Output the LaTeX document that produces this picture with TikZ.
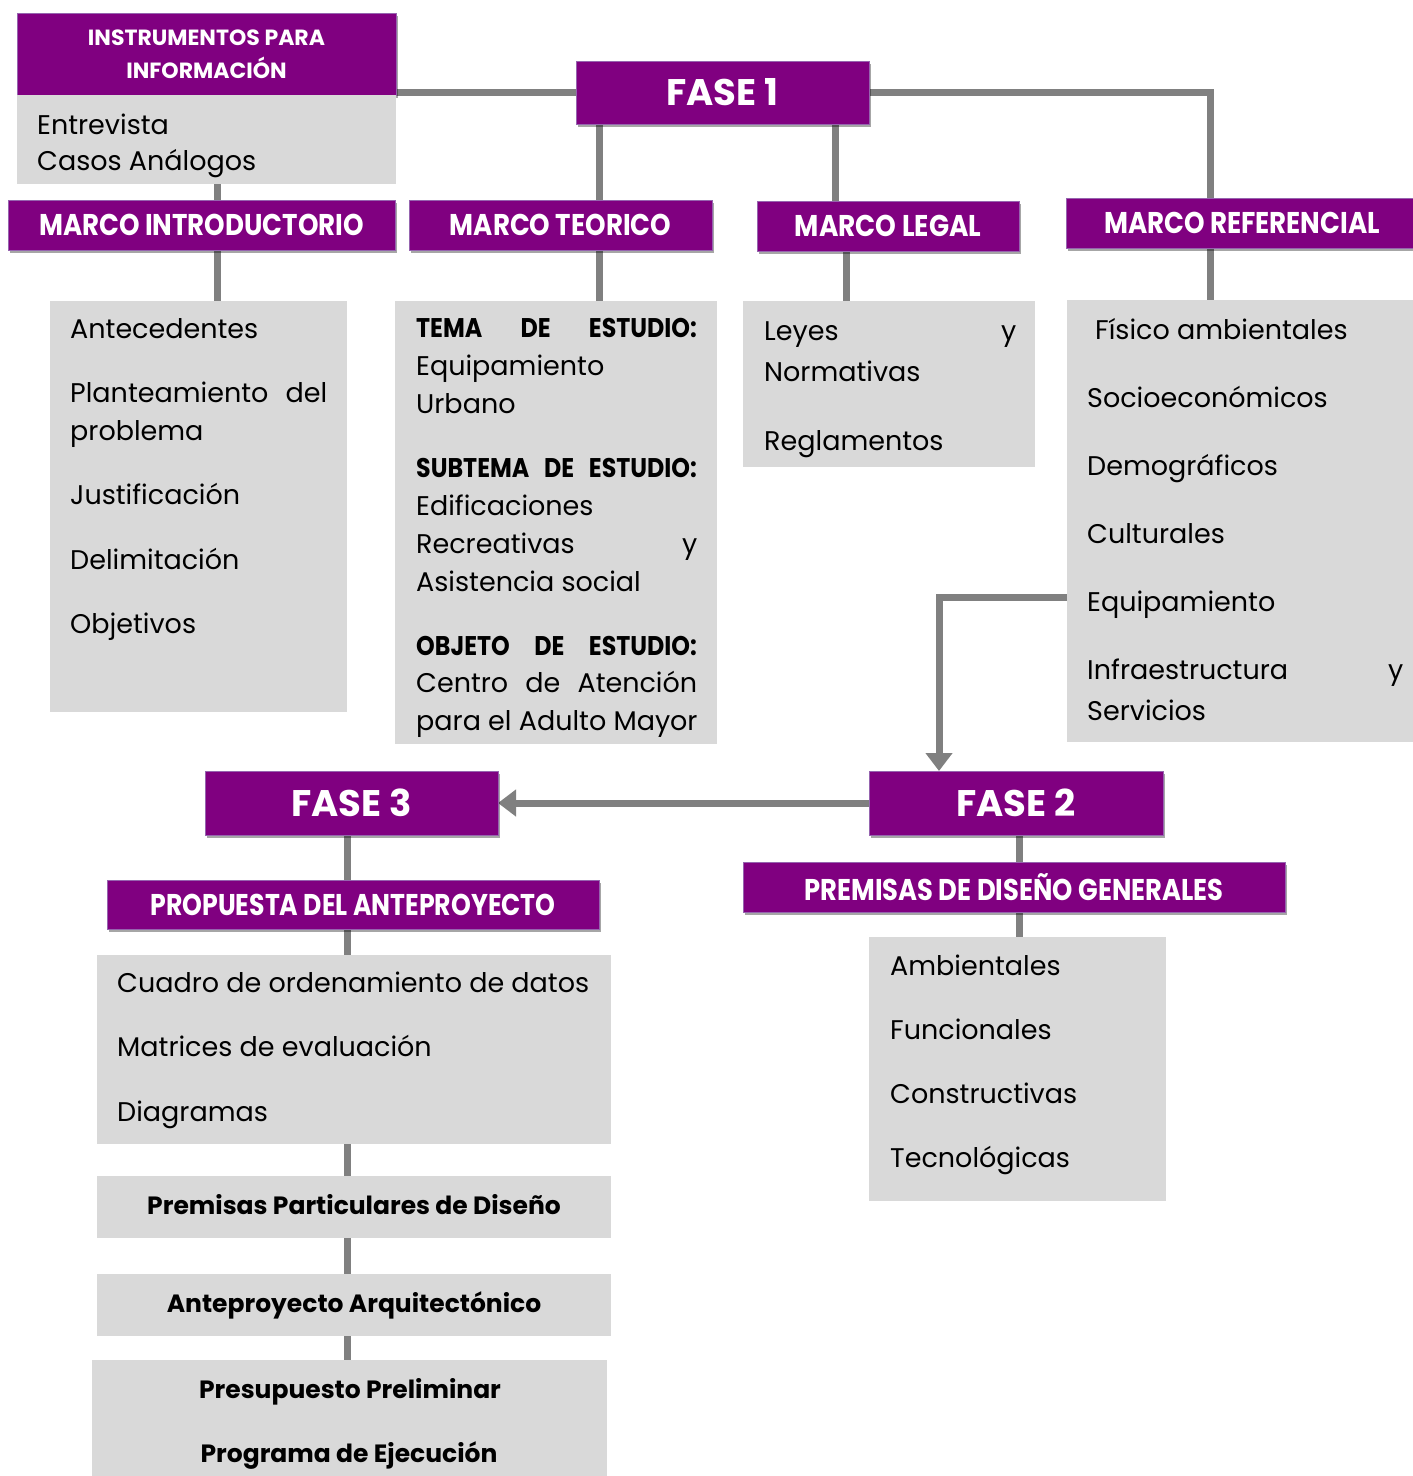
\documentclass[tikz,border=0pt]{standalone}
\usepackage{fontspec}
\usepackage{graphicx}
\setmainfont{Poppins}
\usetikzlibrary{arrows.meta,shadows,backgrounds}
\definecolor{purp}{RGB}{128,0,128}
\definecolor{purpb}{RGB}{150,100,175}
\definecolor{boxg}{RGB}{217,217,217}
\definecolor{lineg}{RGB}{128,128,128}
\newcommand{\bodyf}{\fontsize{27}{38}\selectfont}
\newcommand{\hdrf}{\fontsize{30}{32}\selectfont\bfseries}
\newcommand{\instf}{\fontsize{22}{33}\selectfont\bfseries}
\newcommand{\fasef}{\fontsize{37}{40}\selectfont\bfseries}
\newcommand{\hx}[2]{\scalebox{#1}[1]{#2}}
\newcommand{\spreadb}[1]{\scalebox{0.88}[1]{\hbox to 319pt{\bfseries #1}}}
\begin{document}
\begin{tikzpicture}[x=1pt,y=-1pt,
  hbox/.style={fill=purp, draw=purpb, line width=1pt, text=white, inner sep=0pt, outer sep=0pt, anchor=north west,
    drop shadow={shadow xshift=2pt,shadow yshift=-3pt,opacity=0.35,fill=black}},
  gbox/.style={fill=boxg, inner sep=0pt, outer sep=0pt, anchor=north west},
  conn/.style={draw=lineg, line width=7pt},
  arr/.style={conn, -{Triangle[length=18pt,width=26pt]}},
  txt/.style={anchor=base west, inner sep=0pt, font=\bodyf},
  btxt/.style={anchor=base, inner sep=0pt, font=\fontsize{25}{30}\selectfont\bfseries}]
\useasboundingbox (0,0) rectangle (1413,1476);
% header boxes
\node[hbox, minimum width=379pt, minimum height=82pt, align=center, font=\instf] (instrh) at (17,13) {INSTRUMENTOS PARA\\INFORMACIÓN};
\node[gbox, minimum width=379pt, minimum height=89pt] (instrg) at (17,95) {};
\node[hbox, minimum width=293pt, minimum height=63pt, font=\fasef] (fase1) at (576,61) {FASE 1};
\node[hbox, minimum width=387pt, minimum height=50pt, font=\hdrf] (introh) at (8,200) {\hx{0.87}{MARCO INTRODUCTORIO}};
\node[hbox, minimum width=303pt, minimum height=50pt, font=\hdrf] (teoh) at (409,200) {\hx{0.87}{MARCO TEORICO}};
\node[hbox, minimum width=262pt, minimum height=50pt, font=\hdrf] (legh) at (757,201) {\hx{0.88}{MARCO LEGAL}};
\node[hbox, minimum width=352pt, minimum height=50pt, font=\hdrf] (refh) at (1066,198) {\hx{0.87}{MARCO REFERENCIAL}};
% grey boxes
\node[gbox, minimum width=297pt, minimum height=411pt] (introg) at (50,301) {};
\node[gbox, minimum width=322pt, minimum height=443pt] (teog) at (395,301) {};
\node[gbox, minimum width=292pt, minimum height=166pt] (legg) at (743,301) {};
\node[gbox, minimum width=350pt, minimum height=442pt] (refg) at (1067,300) {};
% fases
\node[hbox, minimum width=294pt, minimum height=64pt, font=\fasef] (fase2) at (869,771) {FASE 2};
\node[hbox, minimum width=293pt, minimum height=64pt, font=\fasef] (fase3) at (205,771) {FASE 3};
\node[hbox, minimum width=492pt, minimum height=49pt, font=\hdrf] (proph) at (107,880) {\hx{0.84}{PROPUESTA DEL ANTEPROYECTO}};
\node[gbox, minimum width=514pt, minimum height=189pt] (propg) at (97,955) {};
\node[gbox, minimum width=514pt, minimum height=62pt] (ppd) at (97,1176) {};
\node[gbox, minimum width=514pt, minimum height=62pt] (ant) at (97,1274) {};
\node[gbox, minimum width=515pt, minimum height=116pt] (pres) at (92,1360) {};
\node[hbox, minimum width=542pt, minimum height=50pt, font=\hdrf] (premh) at (743,862) {\hx{0.86}{PREMISAS DE DISEÑO GENERALES}};
\node[gbox, minimum width=297pt, minimum height=264pt] (premg) at (869,937) {};
% texts
\node[txt] (ta1) at (37,134) {Entrevista};
\node[txt] (ta2) at (37,170) {Casos Análogos};
\node[txt] (tb1) at (70,338) {Antecedentes};
\node[txt] (tb2) at (70,402) {\hbox to 257pt{Planteamiento\hfill del}};
\node[txt] (tb3) at (70,440) {problema};
\node[txt] (tb4) at (70,504) {Justificación};
\node[txt] (tb5) at (70,569) {Delimitación};
\node[txt] (tb6) at (70,633) {Objetivos};
\node[txt] (tc1) at (416,337) {\spreadb{TEMA\hfill DE\hfill ESTUDIO:}};
\node[txt] (tc2) at (416,375) {Equipamiento};
\node[txt] (tc3) at (416,413) {Urbano};
\node[txt] (tc4) at (416,477) {\spreadb{SUBTEMA\hfill DE\hfill ESTUDIO:}};
\node[txt] (tc5) at (416,515) {Edificaciones};
\node[txt] (tc6) at (416,553) {\hbox to 281pt{Recreativas\hfill y}};
\node[txt] (tc7) at (416,591) {Asistencia social};
\node[txt] (tc8) at (416,655) {\spreadb{OBJETO\hfill DE\hfill ESTUDIO:}};
\node[txt] (tc9) at (416,692) {\hbox to 281pt{Centro\hfill de\hfill Atención}};
\node[txt] (tc10) at (416,730) {para el Adulto Mayor};
\node[txt] (td1) at (764,340) {\hbox to 252pt{Leyes\hfill y}};
\node[txt] (td2) at (764,381) {Normativas};
\node[txt] (td3) at (764,450) {Reglamentos};
\node[txt] (te1) at (1095,339) {Físico ambientales};
\node[txt] (te2) at (1087,407) {Socioeconómicos};
\node[txt] (te3) at (1087,475) {Demográficos};
\node[txt] (te4) at (1087,543) {Culturales};
\node[txt] (te5) at (1087,611) {Equipamiento};
\node[txt] (te6) at (1087,679) {\hbox to 316pt{Infraestructura\hfill y}};
\node[txt] (te7) at (1087,720) {Servicios};
\node[txt] (tf1) at (117,992) {Cuadro de ordenamiento de datos};
\node[txt] (tf2) at (117,1056) {Matrices de evaluación};
\node[txt] (tf3) at (117,1121) {Diagramas};
\node[txt] (tg1) at (890,975) {Ambientales};
\node[txt] (tg2) at (890,1039) {Funcionales};
\node[txt] (tg3) at (890,1103) {Constructivas};
\node[txt] (tg4) at (890,1167) {Tecnológicas};
\node[btxt] (th1) at (354,1214) {Premisas Particulares de Diseño};
\node[btxt] (th2) at (354,1312) {Anteproyecto Arquitectónico};
\node[btxt] (th3) at (350,1398) {Presupuesto Preliminar};
\node[btxt] (th4) at (349,1462) {Programa de Ejecución};
% connector x positions
\coordinate (xa) at (217,0);
\coordinate (xb) at (599,0);
\coordinate (xc) at (835,0);
\coordinate (xd) at (846,0);
\coordinate (xe) at (1210,0);
\coordinate (xf) at (347,0);
\coordinate (xg) at (1019,0);
\coordinate (xh) at (939,0);
\coordinate (ya) at (0,597);
\begin{scope}[on background layer]
\draw[conn] (fase1.west) -- (fase1.west -| instrg.east);
\draw[conn] (fase1.east) -| (refh.north -| xe);
\draw[conn] (fase1.south -| xb) -- (teoh.north -| xb);
\draw[conn] (fase1.south -| xc) -- (legh.north -| xc);
\draw[conn] (instrg.south -| xa) -- (introh.north -| xa);
\draw[conn] (introh.south -| xa) -- (introg.north -| xa);
\draw[conn] (teoh.south -| xb) -- (teog.north -| xb);
\draw[conn] (legh.south -| xd) -- (legg.north -| xd);
\draw[conn] (refh.south -| xe) -- (refg.north -| xe);
\draw[arr] (refg.west |- ya) -| (fase2.north -| xh);
\draw[arr] (fase2.west) -- (fase3.east);
\draw[conn] (fase3.south -| xf) -- (propg.north -| xf);
\draw[conn] (propg.south -| xf) -- (ppd.north -| xf);
\draw[conn] (ppd.south -| xf) -- (ant.north -| xf);
\draw[conn] (ant.south -| xf) -- (pres.north -| xf);
\draw[conn] (fase2.south -| xg) -- (premg.north -| xg);
\end{scope}
\end{tikzpicture}
\end{document}
